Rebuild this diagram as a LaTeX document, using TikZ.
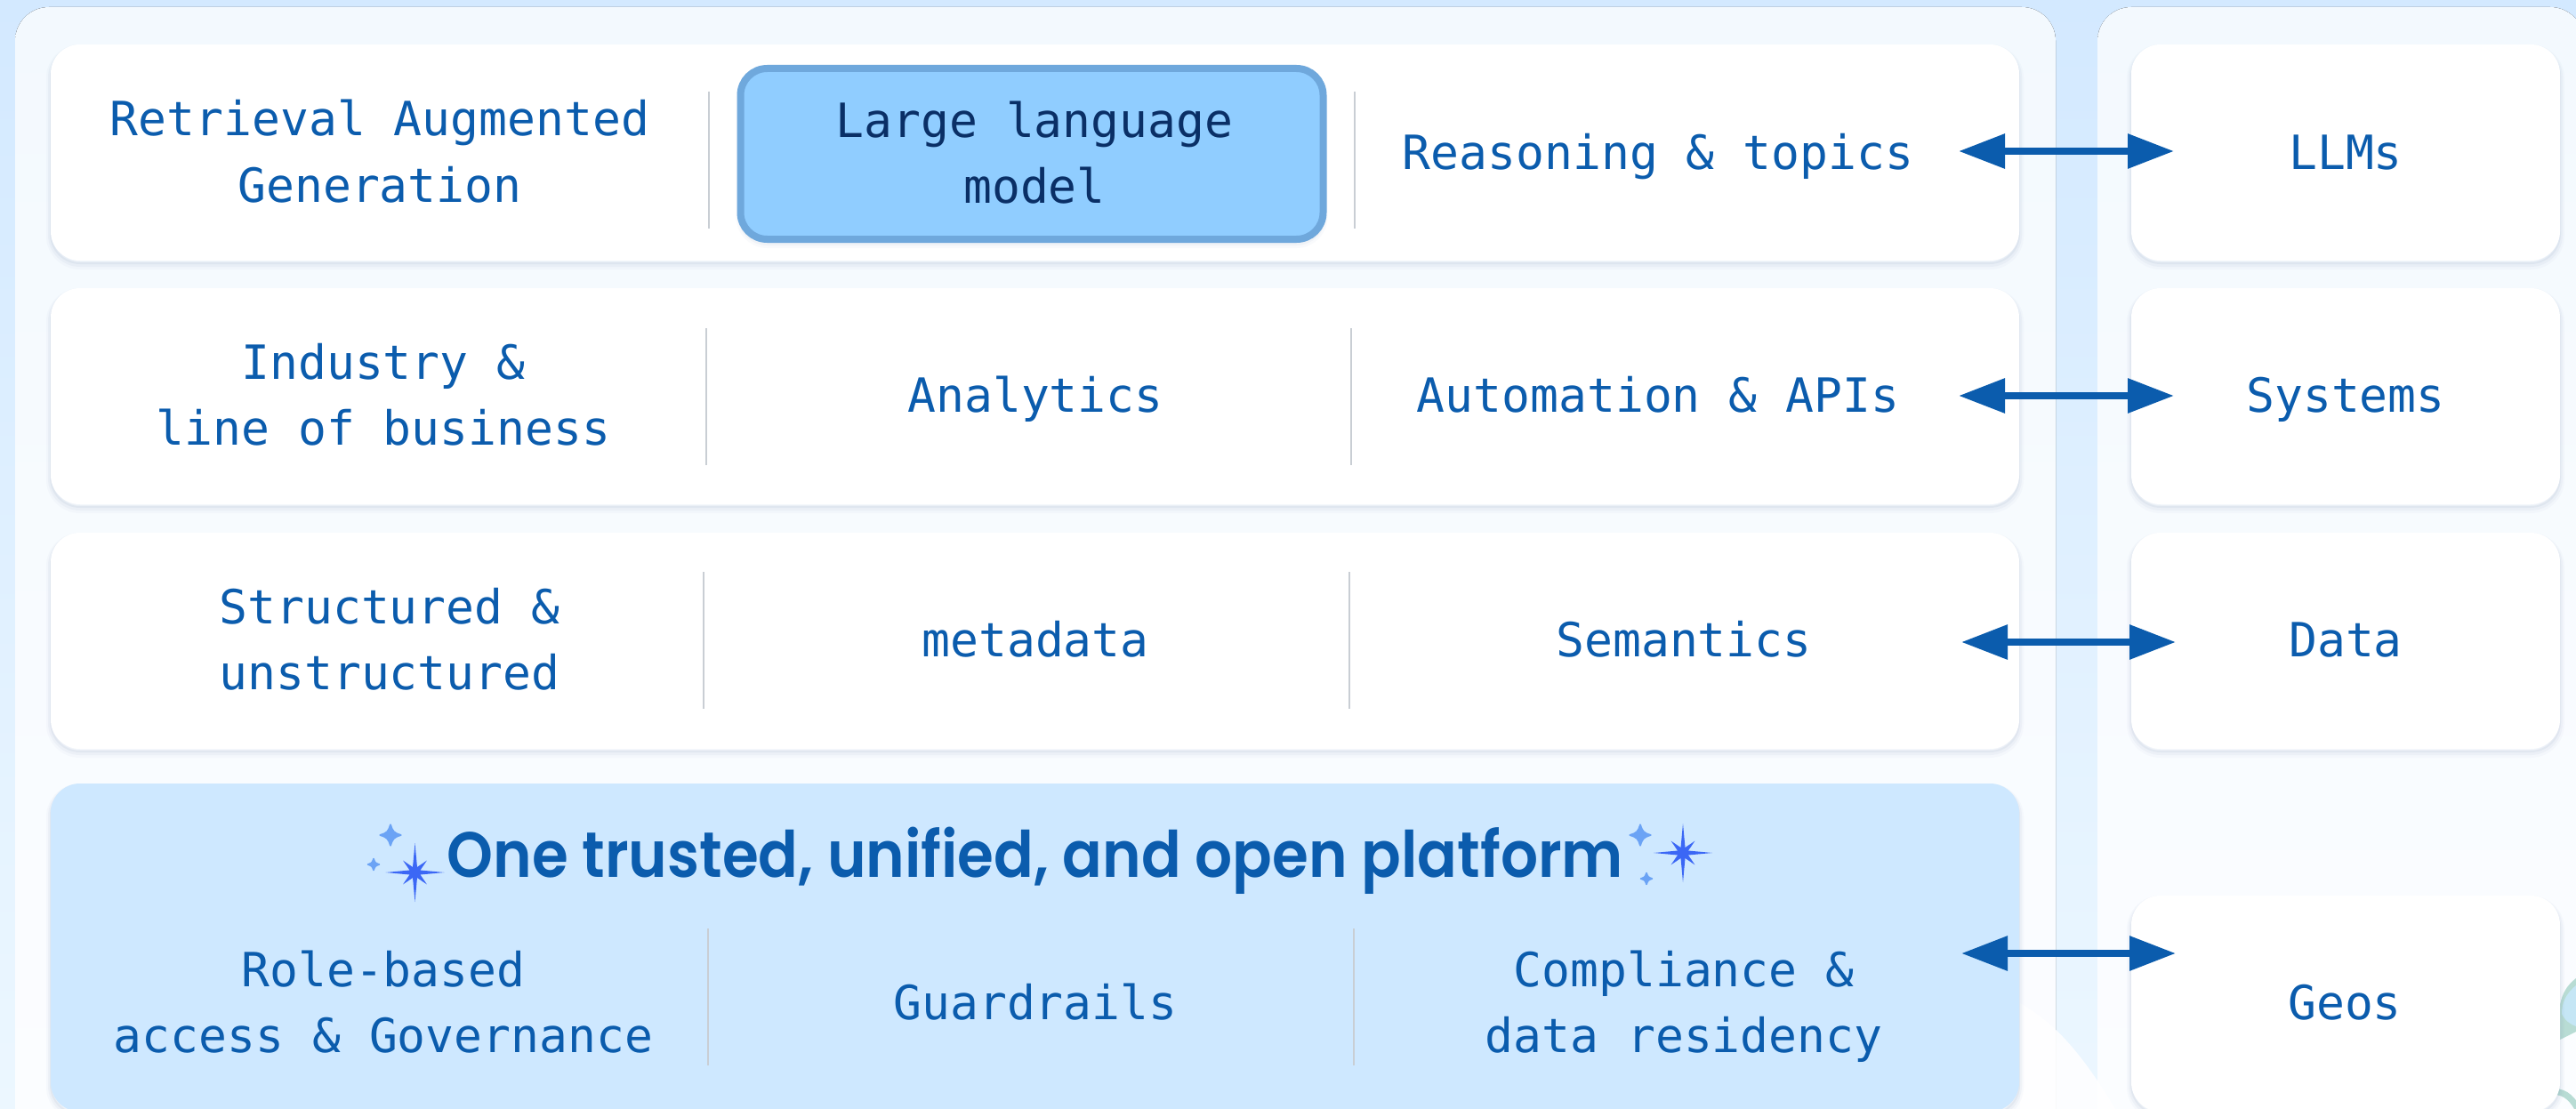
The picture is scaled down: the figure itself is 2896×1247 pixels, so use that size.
\documentclass[tikz,border=0pt]{standalone}
\usepackage{fontspec}
\usetikzlibrary{arrows.meta}
\newfontfamily\labelfont{DejaVu Sans Mono}
\newfontfamily\headfont[UprightFont=* SemiBold,FakeStretch=0.917]{Poppins}
\definecolor{ink}{HTML}{0B5CAD}
\definecolor{inkdark}{HTML}{0A2F66}
\definecolor{bgtop}{HTML}{D3E9FF}
\definecolor{bgbot}{HTML}{ECF7FF}
\definecolor{paneltop}{HTML}{F3F9FE}
\definecolor{panelbot}{HTML}{FCFDFF}
\definecolor{platform}{HTML}{CEE8FF}
\definecolor{hlfill}{HTML}{90CDFF}
\definecolor{hlline}{HTML}{6FA8DC}
\definecolor{rule}{HTML}{C9CED4}
\definecolor{starblue}{HTML}{3B67F5}
\definecolor{sparkblue}{HTML}{6BA3F5}
\definecolor{leaf}{HTML}{B8DCD4}
\definecolor{wing}{HTML}{C5E6F5}
\definecolor{shade}{HTML}{5A7AA0}
\tikzset{
  softshadow/.style={
    preaction={draw=shade,draw opacity=.03,line width=5pt,transform canvas={yshift=-2.5pt}},
    preaction={draw=shade,draw opacity=.05,line width=3pt,transform canvas={yshift=-2pt}},
    preaction={draw=shade,draw opacity=.07,line width=1pt,transform canvas={yshift=-1.5pt}}},
  card/.style={softshadow,fill=white,rounded corners=16.5pt,inner sep=0pt,outer sep=0pt,minimum height=121.5pt},
  wide/.style={minimum width=1106.5pt},
  side/.style={minimum width=241pt},
  label/.style={font=\labelfont\fontsize{26.5pt}{37pt}\selectfont,text=ink,align=center,inner sep=0pt,anchor=base},
  divider/.style={draw=rule,line width=.8pt},
  link/.style={draw=ink,line width=4pt,{Triangle[length=26pt,width=18.7pt]}-{Triangle[length=26pt,width=18.7pt]}},
}
\newcommand{\eightstar}[2]{\fill[starblue] 
  (#1,#2) +(90:33) -- +(67.5:6.5) -- +(45:19) -- +(22.5:6.5) -- +(0:33) -- +(-22.5:6.5) -- +(-45:19) -- +(-67.5:6.5) -- +(-90:33) -- +(-112.5:6.5) -- +(-135:19) -- +(-157.5:6.5) -- +(180:33) -- +(157.5:6.5) -- +(135:19) -- +(112.5:6.5) -- cycle;}
\newcommand{\fourspark}[3]{\begin{scope}[shift={(#1,#2)},x=#3*.5pt,y=#3*.5pt]
  \filldraw[sparkblue,line width=.9pt,line join=round] (0,-.9) .. controls (.2,-.28) and (.28,-.2) .. (.9,0) .. controls (.28,.2) and (.2,.28) .. (0,.9) .. controls (-.2,.28) and (-.28,.2) .. (-.9,0) .. controls (-.28,-.2) and (-.2,-.28) .. cycle;
\end{scope}}
\begin{document}
\begin{tikzpicture}[x=.5pt,y=-.5pt]
\useasboundingbox (0,0) rectangle (2896,1247);
% backdrop
\fill[top color=bgtop,bottom color=bgbot] (0,0) rectangle (2896,1247);
\fill[top color=paneltop,bottom color=panelbot,rounded corners=19pt] (17,8) rectangle (2311,1320);
\fill[top color=paneltop,bottom color=panelbot,rounded corners=19pt] (2358,8) rectangle (2905,1320);
% soft hill at the foot
\fill[white,opacity=.85] (2271,1128) .. controls (2305,1148) and (2335,1175) .. (2378,1247) -- (2271,1247) -- cycle;
% butterfly and stem at the right edge
\fill[leaf] (2896,1100) .. controls (2880,1112) and (2874,1130) .. (2876,1170) -- (2896,1160) -- cycle;
\fill[wing] (2896,1108) .. controls (2884,1118) and (2880,1128) .. (2880,1140) .. controls (2884,1148) and (2890,1152) .. (2896,1154) -- cycle;
\draw[leaf,line width=3.5pt] (2868,1228) .. controls (2880,1226) and (2890,1232) .. (2898,1247);
% cards
\node[card,wide] (row1) at (1163.5,171.5) {};
\node[card,wide] (row2) at (1163.5,445.5) {};
\node[card,wide] (row3) at (1163.5,720.5) {};
\node[card,wide,fill=platform,minimum height=184.5pt] (row4) at (1163.5,1065.5) {};
\node[card,side] (llmbox) at (2637,171.5) {};
\node[card,side] (sysbox) at (2637,445.5) {};
\node[card,side] (databox) at (2637,720.5) {};
\node[card,side] (geobox) at (2637,1128.5) {};
\node[softshadow,fill=hlfill,draw=hlline,line width=4pt,rounded corners=15pt,inner sep=0pt,outer sep=0pt,minimum width=327.5pt,minimum height=96pt] (llmcell) at (1160,173) {};
% dividers
\draw[divider] (797,103) -- (797,257);
\draw[divider] (1523,103) -- (1523,257);
\draw[divider] (794,369) -- (794,523);
\draw[divider] (1519,369) -- (1519,523);
\draw[divider] (791,643) -- (791,797);
\draw[divider] (1517,643) -- (1517,797);
\draw[divider] (796,1044) -- (796,1198);
\draw[divider] (1522,1044) -- (1522,1198);
% texts
\node[label] (rag) at (427,227) {Retrieval Augmented\\Generation};
\node[label,text=inkdark] (llm) at (1163,228) {Large language\\model};
\node[label] (reason) at (1864,191) {Reasoning \& topics};
\node[label] (llms) at (2637,191) {LLMs};
\node[label] (industry) at (431,500) {Industry \&\\line of business};
\node[label] (analytics) at (1164,463) {Analytics};
\node[label] (auto) at (1864,463) {Automation \& APIs};
\node[label] (systems) at (2637,463) {Systems};
\node[label] (struct) at (438,775) {Structured \&\\unstructured};
\node[label] (meta) at (1164,738) {metadata};
\node[label] (sem) at (1893,738) {Semantics};
\node[label] (data) at (2637,738) {Data};
\node[label] (role) at (431,1183) {Role-based\\access \& Governance};
\node[label] (guard) at (1164,1146) {Guardrails};
\node[label] (comp) at (1893,1183) {Compliance \&\\data residency};
\node[label] (geos) at (2636,1146) {Geos};
\node[font=\headfont\fontsize{36pt}{40pt}\selectfont,text=ink,inner sep=0pt,anchor=base] (title) at (1164,986) {One trusted, unified, and open platform};
% sparkles
\eightstar{466.5}{981}
\eightstar{1892}{959}
\fourspark{439}{939}{13}
\fourspark{420}{972}{7}
\fourspark{1844}{939}{13}
\fourspark{1851}{988}{7}
% connectors
\coordinate (lev1) at (2330,170);
\coordinate (lev2) at (2330,445);
\coordinate (lev3) at (2330,722);
\coordinate (lev4) at (2330,1072);
\draw[link,shorten <=-34pt,shorten >=-24pt] (row1.east |- lev1) -- (llmbox.west |- lev1);
\draw[link,shorten <=-34pt,shorten >=-24pt] (row2.east |- lev2) -- (sysbox.west |- lev2);
\draw[link,shorten <=-32.5pt,shorten >=-25pt] (row3.east |- lev3) -- (databox.west |- lev3);
\draw[link,shorten <=-32.5pt,shorten >=-25pt] (row4.east |- lev4) -- (geobox.west |- lev4);
\end{tikzpicture}
\end{document}
